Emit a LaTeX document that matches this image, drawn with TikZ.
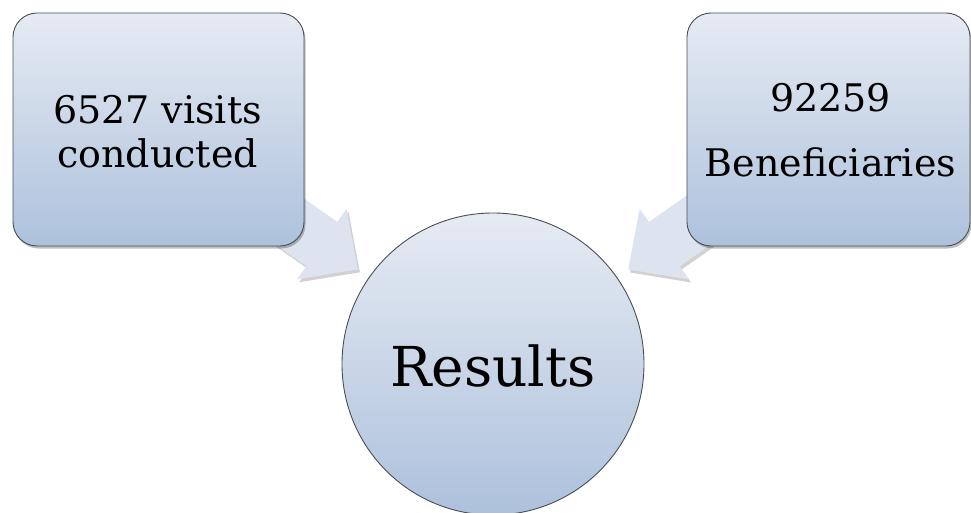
\documentclass[tikz,border=0pt]{standalone}
\usepackage{fontspec}
\setmainfont{DejaVu Serif}
\usetikzlibrary{calc,shadows}
\definecolor{topc}{HTML}{E6EBF3}
\definecolor{botc}{HTML}{ADC1DC}
\definecolor{arrc}{HTML}{DDE4EF}
\definecolor{edgec}{HTML}{4A4E54}
\pgfdeclarelayer{bg}
\pgfsetlayers{bg,main}
\begin{document}
\begin{tikzpicture}[x=1pt,y=-1pt,
  box/.style={draw=edgec, line width=0.9pt, rounded corners=24pt,
    top color=topc, bottom color=botc, inner sep=0pt,
    minimum height=233pt,
    drop shadow={shadow xshift=1.5pt, shadow yshift=-2.5pt, opacity=0.25, fill=black}},
  circ/.style={circle, draw=edgec, line width=0.9pt, top color=topc, bottom color=botc,
    minimum size=302pt, inner sep=0pt},
  arrowfill/.style={fill=arrc,
    drop shadow={shadow xshift=2pt, shadow yshift=-3pt, opacity=0.18, fill=black}},
  txt/.style={inner sep=0pt, font=\fontsize{38}{46}\selectfont},
  bigtxt/.style={inner sep=0pt, font=\fontsize{55}{64}\selectfont}]
\useasboundingbox (0,0) rectangle (971,513);

\node[box, minimum width=291pt] (L) at (158.5,129.5) {};
\node[box, minimum width=283pt] (R) at (828.5,129.5) {};
\node[circ] (C) at (493,364) {};

\node[txt, anchor=base] (L1) at ($(L.north)+(-1,111)$) {6527 visits};
\node[txt, anchor=base] (L2) at ($(L.north)+(-1,155)$) {conducted};
\node[txt, anchor=base] (R1) at ($(R.north)+(2,99)$) {92259};
\node[txt, anchor=base] (R2) at ($(R.north)+(2,164)$) {Beneficiaries};
\node[bigtxt, anchor=base] (Ct) at ($(C.center)+(0,22)$) {Results};

\coordinate (lt) at ($(C.center)!165pt!(L.center)$);
\coordinate (rt) at ($(C.center)!165pt!(R.center)$);
\begin{pgfonlayer}{bg}
\fill[white] (0,0) rectangle (971,513);
\path[arrowfill, shift={(lt)}, rotate=-35]
  (0,0) -- (-44,43) -- (-44,27) -- (-210,27) -- (-210,-27) -- (-44,-27) -- (-44,-43) -- cycle;
\path[arrowfill, shift={(rt)}, rotate=-145]
  (0,0) -- (-44,43) -- (-44,27) -- (-210,27) -- (-210,-27) -- (-44,-27) -- (-44,-43) -- cycle;
\end{pgfonlayer}
\end{tikzpicture}
\end{document}
